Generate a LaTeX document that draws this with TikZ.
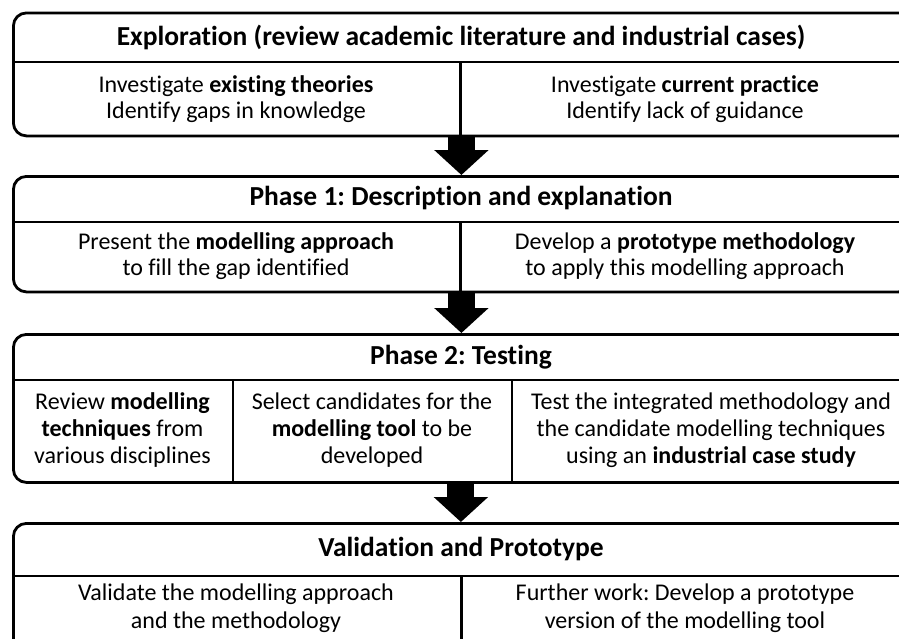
\documentclass[tikz,border=0pt]{standalone}
\usepackage{fontspec}
\setmainfont{Carlito}[Ligatures=NoCommon]
\frenchspacing
\usetikzlibrary{arrows.meta,positioning}

\begin{document}
\begin{tikzpicture}[x=1pt, y=-1pt, line width=2.5pt]
	    \tikzstyle{stage}=[draw=black, rounded corners=13pt, inner sep=0pt, line width=2.8pt]
	    \tikzstyle{txt}=[align=center, font=\fontsize{24}{25.5}\selectfont]
	    \tikzstyle{headtxt}=[font=\fontsize{27.5}{30}\selectfont\bfseries]
	    \tikzstyle{bigarrow}=[line width=27pt, -{Triangle[length=25pt, width=53pt]}]
	    
	    \useasboundingbox (0,0) rectangle (899,638);
	    \clip (0,0) rectangle (899,638);
	    
	    % the four stages
	    \node[stage, anchor=north west, minimum width=898pt, minimum height=123pt] (expl) at (12,11.5) {};
	    \node[stage, anchor=north west, minimum width=898pt, minimum height=115.5pt] (ph1) at (12,175) {};
	    \node[stage, anchor=north west, minimum width=898pt, minimum height=148pt] (ph2) at (12,333) {};
	    \node[stage, anchor=north west, minimum width=898pt, minimum height=180pt] (valid) at (12,522) {};
	    
	    % header and cell lines
	    \draw ([yshift=-50.5pt]expl.north west) -- ([yshift=-50.5pt]expl.north east);
	    \draw ([yshift=-47pt]ph1.north west) -- ([yshift=-47pt]ph1.north east);
	    \draw ([yshift=-47pt]ph2.north west) -- ([yshift=-47pt]ph2.north east);
	    \draw ([yshift=-54pt]valid.north west) -- ([yshift=-54pt]valid.north east);
	    \draw ([yshift=-50.5pt, xshift=-2pt]expl.north) -- ([xshift=-2pt]expl.south);
	    \draw ([yshift=-47pt, xshift=-2pt]ph1.north) -- ([xshift=-2pt]ph1.south);
	    \draw ([yshift=-47pt]ph2.north west) ++(221pt,0) coordinate (ph2 a) -- (ph2 a |- ph2.south);
	    \draw ([yshift=-47pt]ph2.north west) ++(500pt,0) coordinate (ph2 b) -- (ph2 b |- ph2.south);
	    \draw ([yshift=-54pt, xshift=-1pt]valid.north) -- ([xshift=-1pt]valid.south);
	    
	    % texts
	    \node[headtxt] (expl head) at (461,37) {Exploration (review academic literature and industrial cases)};
	    \node[txt] (expl left) at (236,99) {Investigate \textbf{existing theories}\\Identify gaps in knowledge};
	    \node[txt] (expl right) at (685,99) {Investigate \textbf{current practice}\\Identify lack of guidance};
	    
	    \node[headtxt] (ph1 head) at (461,198.5) {Phase 1: Description and explanation};
	    \node[txt] (ph1 left) at (236,256) {Present the \textbf{modelling approach}\\to fill the gap identified};
	    \node[txt] (ph1 right) at (685,256) {Develop a \textbf{prototype methodology}\\to apply this modelling approach};
	    
	    \node[headtxt] (ph2 head) at (461,357) {Phase 2: Testing};
	    \node[txt, font=\fontsize{24}{27}\selectfont] (ph2 left) at (122.5,430) {Review \textbf{modelling}\\\textbf{techniques} from\\various disciplines};
	    \node[txt, font=\fontsize{24}{27}\selectfont] (ph2 mid) at (372,430) {Select candidates for the\\\textbf{modelling tool} to be\\developed};
	    \node[txt, font=\fontsize{24}{27}\selectfont] (ph2 right) at (711,430) {Test the integrated methodology and\\the candidate modelling techniques\\using an \textbf{industrial case study}};
	    
	    \node[headtxt] (valid head) at (461,549) {Validation and Prototype};
	    \node[txt, font=\fontsize{24}{27.5}\selectfont] (valid left) at (236,608) {Validate the modelling approach\\and the methodology};
	    \node[txt, font=\fontsize{24}{27.5}\selectfont] (valid right) at (685,608) {Further work: Develop a prototype\\version of the modelling tool};
	    
	    % arrows between stages
	    \draw[bigarrow] ([xshift=-1pt]expl.south) -- ([xshift=-1pt]ph1.north);
	    \draw[bigarrow] ([xshift=-1pt]ph1.south) -- ([xshift=-1pt]ph2.north);
	    \draw[bigarrow] ([xshift=-1.5pt]ph2.south) -- ([xshift=-1.5pt]valid.north);
    
\end{tikzpicture}
\end{document}
